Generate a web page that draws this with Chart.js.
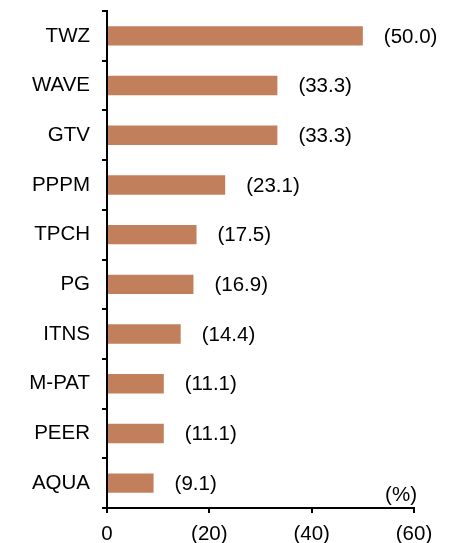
<!DOCTYPE html>
<html>
<head>
<meta charset="utf-8">
<script src="https://cdn.jsdelivr.net/npm/chart.js@4"></script>
<style>
  html, body { margin: 0; padding: 0; background: #fff; }
  #wrap { width: 452px; height: 543px; }
</style>
</head>
<body>
<div id="wrap"><canvas id="bar-chart"></canvas></div>
<script>
const tickers = ["TWZ", "WAVE", "GTV", "PPPM", "TPCH", "PG", "ITNS", "M-PAT", "PEER", "AQUA"];
const declines = [50.0, 33.3, 33.3, 23.1, 17.5, 16.9, 14.4, 11.1, 11.1, 9.1];
const x_ticks = [0, 20, 40, 60];

const font_name = "'Liberation Sans', Arial, sans-serif";
const font_size = 20.5;
const bar_color = "#c17f5b";

// shows values as (x.x) to the right of each bar, plus the (%) unit note
const value_labels = {
  id: "valueLabels",
  afterDatasetsDraw(chart) {
    const ctx = chart.ctx;
    const meta = chart.getDatasetMeta(0);
    ctx.save();
    ctx.font = `${font_size}px ${font_name}`;
    ctx.fillStyle = "#000";
    ctx.textBaseline = "middle";
    ctx.textAlign = "left";
    meta.data.forEach((bar, i) => {
      ctx.fillText(`(${declines[i].toFixed(1)})`, bar.x + 21, bar.y + 1);
    });
    ctx.textAlign = "right";
    const area = chart.chartArea;
    ctx.fillText("(%)", area.right + 3, area.bottom - 13);
    ctx.restore();
  }
};

new Chart(document.getElementById("bar-chart"), {
  type: "bar",
  data: {
    labels: tickers,
    datasets: [{
      data: declines,
      backgroundColor: bar_color,
      barPercentage: 0.39,
      categoryPercentage: 1.0
    }]
  },
  options: {
    indexAxis: "y",
    responsive: true,
    maintainAspectRatio: false,
    animation: false,
    layout: { padding: { top: 11, right: 38, left: 0, bottom: 0 } },
    plugins: {
      legend: { display: false },
      tooltip: { enabled: false }
    },
    scales: {
      x: {
        min: 0,
        max: 60,
        afterFit: (scale) => { scale.height = 35; },
        afterBuildTicks: (scale) => { scale.ticks = x_ticks.map(v => ({ value: v })); },
        ticks: {
          color: "#000",
          font: { family: font_name, size: font_size },
          padding: 9,
          maxRotation: 0,
          callback: (v) => v === 0 ? "0" : `(${v})`
        },
        grid: { drawOnChartArea: false, drawTicks: true, tickLength: 5, color: "#000", lineWidth: 2 },
        border: { color: "#000", width: 2 }
      },
      y: {
        afterFit: (scale) => {
          scale.width = 107;
          scale.paddingTop = 0;
          scale.paddingBottom = 0;
        },
        ticks: {
          color: "#000",
          font: { family: font_name, size: font_size },
          padding: 12
        },
        grid: { drawOnChartArea: false, drawTicks: true, tickLength: 5, color: "#000", lineWidth: 2, offset: true },
        border: { color: "#000", width: 2 }
      }
    }
  },
  plugins: [value_labels]
});
</script>
</body>
</html>
